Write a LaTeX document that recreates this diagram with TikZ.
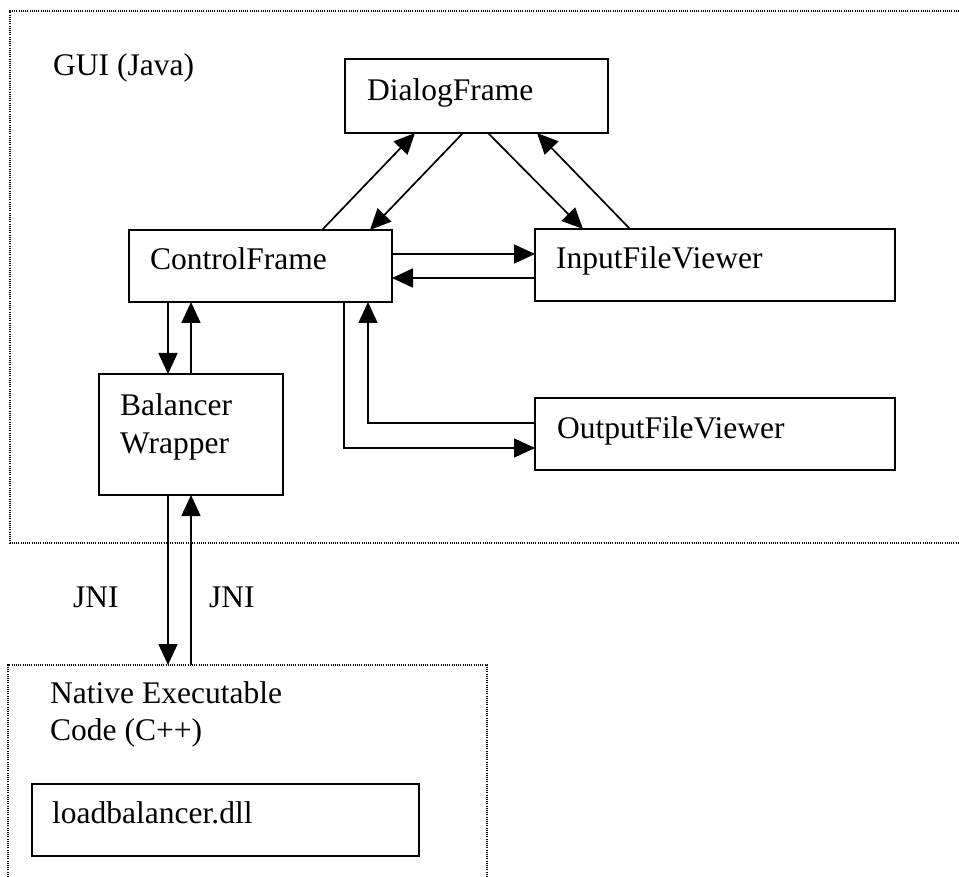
\documentclass[tikz,border=0pt]{standalone}
\usepackage{fontspec}
\setmainfont{Liberation Serif}
\usetikzlibrary{arrows.meta,calc}
\tikzset{
  box/.style={draw, line width=2pt, inner sep=0pt, outer sep=0pt, anchor=north west},
  lbl/.style={inner sep=0pt, anchor=base west, font=\fontsize{31.5}{38}\selectfont},
  arr/.style={line width=1.7pt, -{Triangle[length=21pt,width=19pt]}},
  dots/.style={line width=1.2pt, dash pattern=on 1pt off 1.2pt}
}
\begin{document}
\begin{tikzpicture}[x=1pt,y=-1pt]
\useasboundingbox (0,0) rectangle (959,877);
% container frames
\draw[dots] (959,11) -- (10,11) -- (10,543) -- (959,543);
\draw[dots] (8,877) -- (8,665) -- (487,665) -- (487,877);
\coordinate (nat) at (180,665);
% boxes
\node[box, minimum width=263pt, minimum height=74pt] (df) at (345,59) {};
\node[box, minimum width=263pt, minimum height=72pt] (cf) at (129,230) {};
\node[box, minimum width=360pt, minimum height=72pt] (ifv) at (535,229) {};
\node[box, minimum width=360pt, minimum height=72pt] (ofv) at (535,398) {};
\node[box, minimum width=184pt, minimum height=121pt] (bw) at (99,374) {};
\node[box, minimum width=387pt, minimum height=72pt] (dll) at (32,784) {};
% texts
\node[lbl] (gui) at (53,76) {GUI (Java)};
\node[lbl] (dft) at (367,101) {DialogFrame};
\node[lbl] (cft) at (150,270) {ControlFrame};
\node[lbl] (ift) at (556,269) {InputFileViewer};
\node[lbl] (oft) at (557,438) {OutputFileViewer};
\node[lbl] (bw1) at (120,415) {Balancer};
\node[lbl] (bw2) at (120,453) {Wrapper};
\node[lbl] (jni1) at (73,607) {JNI};
\node[lbl] (jni2) at (209,607) {JNI};
\node[lbl] (ne1) at (50,703) {Native Executable};
\node[lbl] (ne2) at (50,740) {Code (C++)};
\node[lbl] (dllt) at (52,823) {loadbalancer.dll};
% diagonal connectors
\draw[arr] (cf.north -| 322,0) -- (df.south -| 415,0);
\draw[arr] (df.south -| 463,0) -- (cf.north -| 370,0);
\draw[arr] (df.south -| 488,0) -- (ifv.north -| 583,0);
\draw[arr] (ifv.north -| 630,0) -- (df.south -| 537,0);
% ControlFrame <-> InputFileViewer
\draw[arr] (cf.east |- 0,254) -- (ifv.west |- 0,254);
\draw[arr] (ifv.west |- 0,278) -- (cf.east |- 0,278);
% ControlFrame <-> OutputFileViewer
\draw[arr] (cf.south -| 344,0) |- (ofv.west |- 0,448);
\draw[arr] (ofv.west |- 0,423) -| (cf.south -| 368,0);
% ControlFrame <-> Balancer Wrapper
\draw[arr] (cf.south -| 168,0) -- (bw.north -| 168,0);
\draw[arr] (bw.north -| 191,0) -- (cf.south -| 191,0);
% Balancer Wrapper <-> Native
\draw[arr] (bw.south -| 168,0) -- (nat -| 168,0);
\draw[arr] (nat -| 191,0) -- (bw.south -| 191,0);
\end{tikzpicture}
\end{document}
